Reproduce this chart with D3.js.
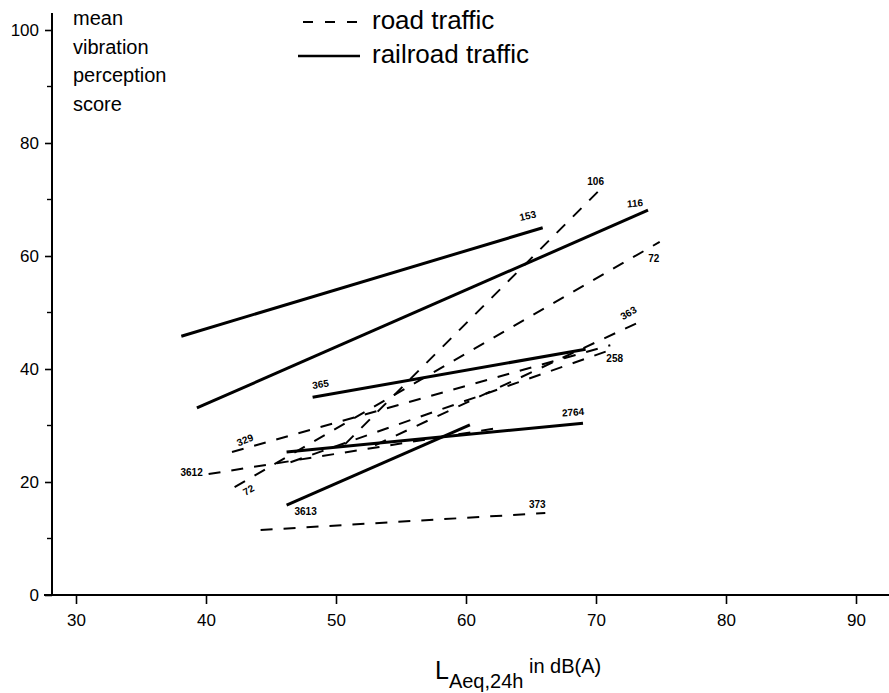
<!DOCTYPE html>
<html>
<head>
<meta charset="utf-8">
<script src="https://cdn.jsdelivr.net/npm/d3@7"></script>
<style>
  body { margin: 0; background: #fff; }
  svg { font-family: "Liberation Sans", Arial, Helvetica, sans-serif; }
</style>
</head>
<body>
<div class="chart"></div>
<script>
// road traffic lines (dashed): start / end points in (dB(A), score)
var roadX0 = [50.7, 42.2, 53.0, 42.0, 46.5, 40.2, 44.2];
var roadY0 = [26.7, 19.1, 26.5, 25.3, 23.5, 21.4, 11.5];
var roadX1 = [70.2, 74.9, 73.5, 71.1, 70.9, 62.6, 66.1];
var roadY1 = [71.5, 62.5, 48.5, 44.2, 43.2, 29.6, 14.5];
var roadStartLabel = ["", "72", "", "329", "", "3612", ""];
var roadEndLabel   = ["106", "72", "363", "", "258", "", "373"];

// railroad traffic lines (solid)
var railX0 = [38.1, 39.3, 48.2, 46.2, 46.2];
var railY0 = [45.8, 33.1, 35.0, 25.3, 15.9];
var railX1 = [65.9, 74.0, 69.2, 69.0, 60.3];
var railY1 = [65.0, 68.1, 43.5, 30.4, 30.1];
var railStartLabel = ["", "", "365", "", "3613"];
var railEndLabel   = ["153", "116", "", "2764", ""];

var xTicks = [30, 40, 50, 60, 70, 80, 90];
var yTicks = [0, 20, 40, 60, 80, 100];
var yMinorTicks = [10, 30, 50, 70, 90];
var yTitle = ["mean", "vibration", "perception", "score"];

// label placement next to a line end: dx, dy, rotation
var place = {
  "153e": [-15, -12, -12], "116e": [-13, -7, -5], "365s": [8, -13, -8],
  "2764e": [-10, -11, -4], "3613s": [19, 6, 0],
  "106e": [-3, -10, 0], "72s": [14, 3, -30], "72e": [-6, 17, 0],
  "363e": [-13, -8, -30], "329s": [13, -12, -22], "258e": [7, 8, 0],
  "3612s": [-17, -2, 0], "373e": [-8, -9, 0]
};

var svg = d3.select(".chart")
  .append("svg")
    .attr("width", 889)
    .attr("height", 693);

var x = d3.scaleLinear().domain([30, 90]).range([76, 856]);
var y = d3.scaleLinear().domain([0, 100]).range([595, 30]);

// axes
svg.append("line")
  .attr("x1", 44).attr("x2", 889)
  .attr("y1", y(0)).attr("y2", y(0))
  .attr("stroke", "#000").attr("stroke-width", 2);
svg.append("line")
  .attr("x1", 52).attr("x2", 52)
  .attr("y1", y(0) + 1).attr("y2", y(103))
  .attr("stroke", "#000").attr("stroke-width", 2);

var xAxis = d3.axisBottom(x).tickValues(xTicks).tickSize(9).tickPadding(10);
var gx = svg.append("g")
  .attr("transform", "translate(0," + y(0) + ")")
  .call(xAxis);
gx.select(".domain").remove();
gx.selectAll("line").attr("stroke-width", 1.6);
gx.selectAll("text").attr("font-size", 17).attr("fill", "#000")
  .attr("font-family", "Liberation Sans, Arial, sans-serif");

var yAxis = d3.axisLeft(y).tickValues(yTicks).tickSize(7).tickPadding(6);
var gy = svg.append("g")
  .attr("transform", "translate(52,0)")
  .call(yAxis);
gy.select(".domain").remove();
gy.selectAll("line").attr("stroke-width", 1.6);
gy.selectAll("text").attr("font-size", 17).attr("fill", "#000")
  .attr("font-family", "Liberation Sans, Arial, sans-serif");

svg.append("g").selectAll("line")
  .data(yMinorTicks)
  .enter().append("line")
    .attr("x1", 47).attr("x2", 52)
    .attr("y1", function(d) { return y(d); })
    .attr("y2", function(d) { return y(d); })
    .attr("stroke", "#000").attr("stroke-width", 1.4);

// y title
svg.append("g").selectAll("text")
  .data(yTitle)
  .enter().append("text")
    .attr("x", 73)
    .attr("y", function(d, i) { return 25 + i * 28.5; })
    .attr("font-size", 20)
    .text(function(d) { return d; });

// x title
var xt = svg.append("text")
  .attr("x", 435)
  .attr("y", 679);
xt.append("tspan").attr("font-size", 25).text("L");
xt.append("tspan").attr("font-size", 20).attr("dy", 9).text("Aeq,24h");
xt.append("tspan").attr("font-size", 20).attr("dy", -15).text(" in dB(A)");

// legend
svg.append("line")
  .attr("x1", 303).attr("x2", 357).attr("y1", 22).attr("y2", 22)
  .attr("stroke", "#000").attr("stroke-width", 2)
  .attr("stroke-dasharray", "10,12");
svg.append("line")
  .attr("x1", 298).attr("x2", 360).attr("y1", 56).attr("y2", 56)
  .attr("stroke", "#000").attr("stroke-width", 2.6);
svg.append("text").attr("x", 372).attr("y", 29).attr("font-size", 26).text("road traffic");
svg.append("text").attr("x", 372).attr("y", 63).attr("font-size", 26).text("railroad traffic");

// build line records from the arrays
function records(x0, y0, x1, y1, sl, el) {
  return x0.map(function(d, i) {
    return { x0: d, y0: y0[i], x1: x1[i], y1: y1[i], sl: sl[i], el: el[i] };
  });
}
var road = records(roadX0, roadY0, roadX1, roadY1, roadStartLabel, roadEndLabel);
var rail = records(railX0, railY0, railX1, railY1, railStartLabel, railEndLabel);

svg.append("g").selectAll("line")
  .data(road)
  .enter().append("line")
    .attr("x1", function(d) { return x(d.x0); })
    .attr("y1", function(d) { return y(d.y0); })
    .attr("x2", function(d) { return x(d.x1); })
    .attr("y2", function(d) { return y(d.y1); })
    .attr("stroke", "#000").attr("stroke-width", 2)
    .attr("stroke-dasharray", "12,11");

svg.append("g").selectAll("line")
  .data(rail)
  .enter().append("line")
    .attr("x1", function(d) { return x(d.x0); })
    .attr("y1", function(d) { return y(d.y0); })
    .attr("x2", function(d) { return x(d.x1); })
    .attr("y2", function(d) { return y(d.y1); })
    .attr("stroke", "#000").attr("stroke-width", 3);

// sample-size labels at the line ends
var labels = [];
road.concat(rail).forEach(function(d) {
  if (d.sl) labels.push({ t: d.sl, px: x(d.x0), py: y(d.y0), p: place[d.sl + "s"] });
  if (d.el) labels.push({ t: d.el, px: x(d.x1), py: y(d.y1), p: place[d.el + "e"] });
});

svg.append("g").selectAll("text")
  .data(labels)
  .enter().append("text")
    .attr("transform", function(d) {
      return "translate(" + (d.px + d.p[0]) + "," + (d.py + d.p[1]) + ") rotate(" + d.p[2] + ")";
    })
    .attr("text-anchor", "middle")
    .attr("dy", "0.35em")
    .attr("font-size", 10)
    .attr("font-weight", "bold")
    .text(function(d) { return d.t; });
</script>
</body>
</html>
